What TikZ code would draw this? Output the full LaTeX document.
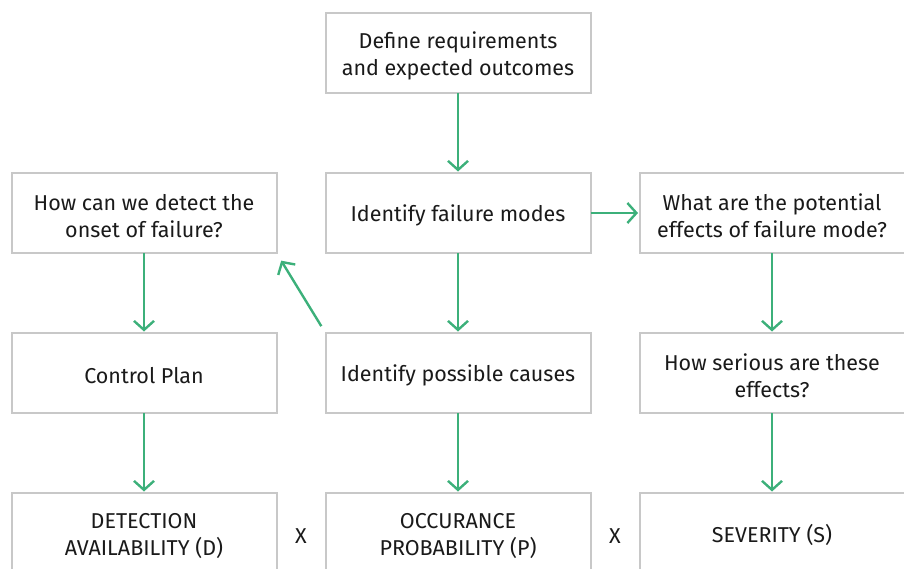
\documentclass[tikz,border=0pt]{standalone}
\usepackage{fontspec}
\setmainfont{Fira Sans}
\usepackage{xcolor}
\usetikzlibrary{positioning}
\usetikzlibrary{arrows.meta}
\usetikzlibrary{calc}
\definecolor{arrowgreen}{HTML}{3CB07A}
\definecolor{boxgray}{HTML}{C8C8C8}
\definecolor{textdark}{HTML}{1A1A1A}
% taller first line, to set the text a little lower in its box
\newcommand{\firstline}{\rule{0pt}{22pt}}

\begin{document}
\begin{tikzpicture}[x=1pt,y=1pt,
  box/.style={draw=boxgray, line width=2pt, fill=white, outer sep=0pt,
    minimum width=265pt, minimum height=80pt, align=center, inner sep=0pt},
  arr/.style={draw=arrowgreen, line width=2.4pt,
    -{Straight Barb[length=9pt,width=20pt]}, shorten >=1.5pt},
  every node/.style={text=textdark, font=\fontsize{21.5}{27}\selectfont}]
\useasboundingbox (0,0) rectangle (904,-568);
\clip (0,0) rectangle (904,-568);
% top box
\node[box] (define) at (458,-53) {\firstline Define requirements\\and expected outcomes};
% second line
\node[box] (modes) [below=80pt of define] {\firstline Identify failure modes};
\node[box] (detect) [left=49pt of modes] {\firstline How can we detect the\\onset of failure?};
\node[box] (effects) [right=49pt of modes] {\firstline What are the potential\\effects of failure mode?};
% third line
\node[box] (causes) [below=80pt of modes] {\firstline Identify possible causes};
\node[box] (control) [left=49pt of causes] {\firstline Control Plan};
\node[box] (serious) [right=49pt of causes] {\firstline How serious are these\\effects?};
% last line
\node[box] (prob) [below=80pt of causes] {\firstline OCCURANCE\\PROBABILITY (P)};
\node[box] (avail) [left=49pt of prob] {\firstline DETECTION\\AVAILABILITY (D)};
\node[box] (sev) [right=49pt of prob] {\firstline SEVERITY (S)};
\node (times1) at ($(avail.east)!0.5!(prob.west)+(0,-3)$) {X};
\node (times2) at ($(prob.east)!0.5!(sev.west)+(0,-3)$) {X};
% arrows
\draw[arr] (define) -- (modes);
\draw[arr] (modes) -- (effects);
\draw[arr] (modes) -- (causes);
\draw[arr] (detect) -- (control);
\draw[arr] (effects) -- (serious);
\draw[arr, shorten <=8pt, shorten >=9pt] (causes.north west) -- (detect.south east);
\draw[arr] (control) -- (avail);
\draw[arr] (causes) -- (prob);
\draw[arr] (serious) -- (sev);
\end{tikzpicture}
\end{document}
